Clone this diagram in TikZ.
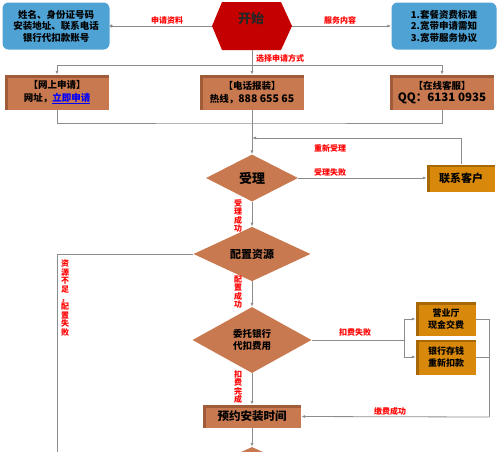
\documentclass[tikz,border=0pt]{standalone}
\usepackage{fontspec}
\setmainfont{Noto Sans CJK SC}
\usetikzlibrary{arrows.meta,shapes.geometric,positioning}

\definecolor{skyblue}{HTML}{4EA2D4}
\definecolor{rust}{HTML}{C8794F}
\definecolor{rustdark}{HTML}{A05C38}
\definecolor{amber}{HTML}{D8890C}
\definecolor{amberdark}{HTML}{A86806}
\definecolor{crimson}{HTML}{C40000}
\definecolor{wire}{HTML}{8C8C8C}

\begin{document}
\begin{tikzpicture}[x=1pt, y=-1pt, >={Latex[length=4pt,width=3pt]},
  bevel/.style={path picture={
      \fill[#1] (path picture bounding box.north west) rectangle ([yshift=-2.5pt]path picture bounding box.north east);
      \fill[#1] (path picture bounding box.north west) rectangle ([xshift=2.5pt]path picture bounding box.south west);}},
  infobox/.style={rectangle, rounded corners=6pt, fill=skyblue, align=center, inner sep=0pt,
      font=\fontsize{9.5}{11.5}\selectfont\bfseries},
  waybox/.style={rectangle, fill=rust, bevel=rustdark, align=center, inner sep=0pt,
      minimum width=104pt, minimum height=35pt, font=\fontsize{9.5}{12.5}\selectfont\bfseries},
  goldbox/.style={rectangle, fill=amber, bevel=amberdark, align=center, inner sep=0pt,
      font=\fontsize{9}{12}\selectfont\bfseries},
  decision/.style={diamond, fill=rust, align=center, inner sep=0pt, font=\bfseries},
  link/.style={draw=wire, line width=0.8pt},
  lab/.style={text=red, inner sep=1pt, font=\fontsize{8}{8.6}\selectfont\bfseries},
  vlab/.style={lab, align=center}]

  \clip (0,0) rectangle (500,451);

  % top row
  \fill[crimson] (222,2) -- (281,2) -- (292,26) -- (281,50) -- (222,50) -- (212,26) -- cycle;
  \coordinate (startW) at (212,26);
  \coordinate (startE) at (292,26);
  \coordinate (startS) at (252,50);
  \node[text=black!85, font=\fontsize{13}{13}\selectfont\bfseries] (start) at (251,19) {开始};

  \node[infobox, minimum width=107pt, minimum height=47pt] (info) at (56,26)
    {姓名、身份证号码\\安装地址、联系电话\\银行代扣款账号};
  \node[infobox, minimum width=105pt, minimum height=47pt] (svc) at (444,26)
    {1.套餐资费标准\\2.宽带申请需知\\3.宽带服务协议};

  \draw[link,-{Circle[length=3pt]}] (startW) -- (info.east);
  \draw[link,->] (startE) -- (svc.west);
  \node[lab] (lbapply) at (167,20) {申请资料};
  \node[lab] (lbservice) at (340,20) {服务内容};

  % ways to apply
  \node[waybox] (web) at (57,92.5) {【网上申请】\\网址，\textcolor{blue}{\underline{立即申请}}};
  \node[waybox] (phone) at (252,92.5) {【电话报装】\\热线，{\fontsize{10.5}{12.5}\selectfont 888 655 65}};
  \node[waybox] (qq) at (442,92.5) {【在线客服】\\{\fontsize{11.5}{14}\selectfont QQ：6131 0935}};

  \coordinate (fork1) at (252,65);
  \coordinate (join1) at (252,123);
  \draw[link] (startS) -- (fork1);
  \draw[link,->] (fork1) -| (web.north);
  \draw[link,->] (fork1) -| (qq.north);
  \draw[link,->] (fork1) -- (phone.north);
  \node[lab] (lbchoose) at (280,58) {选择申请方式};
  \draw[link] (web.south) |- (join1) -| (qq.south);

  % acceptance
  \node[decision, minimum width=92pt, minimum height=47pt, font=\fontsize{13}{13}\selectfont\bfseries] (accept) at (252,178) {受理};
  \node[goldbox, minimum width=68pt, minimum height=27pt, font=\fontsize{11}{11}\selectfont\bfseries] (contact) at (461,178) {联系客户};
  \coordinate (retry) at (252,138);

  \draw[link,->] (phone.south) -- (accept.north);
  \draw[link,->] (accept.east) -- (contact.west);
  \draw[link,->] (contact.north) |- (retry);
  \node[lab] (lbretry) at (330,148) {重新受理};
  \node[lab] (lbfail) at (330,172) {受理失败};

  % resources
  \node[decision, minimum width=117pt, minimum height=47pt, font=\fontsize{11}{11}\selectfont\bfseries] (alloc) at (252,254) {配置资源};
  \coordinate (lostL) at (57,460);
  \draw[link,->] (accept.south) -- (alloc.north);
  \node[vlab] (lbok) at (238,216) {受\\理\\成\\功};
  \draw[link] (alloc.west) -| (lostL);
  \node[vlab] (lbshort) at (65,298) {资\\源\\不\\足\\，\\配\\置\\失\\败};

  % bank payment
  \node[decision, minimum width=119pt, minimum height=66pt, font=\fontsize{9.5}{11.5}\selectfont\bfseries] (bank) at (252,340) {委托银行\\代扣费用};
  \draw[link,->] (alloc.south) -- (bank.north);
  \node[vlab] (lballoc) at (238,292) {配\\置\\成\\功};

  \node[goldbox, minimum width=60pt, minimum height=34pt] (cash) at (446,319) {营业厅\\现金交费};
  \node[goldbox, minimum width=60pt, minimum height=35pt] (redo) at (446,357) {银行存钱\\重新扣款};
  \coordinate (fork2) at (404,340);
  \coordinate (merge) at (489,417);
  \draw[link] (bank.east) -- (fork2);
  \draw[link,->] (fork2) |- (cash.west);
  \draw[link,->] (fork2) |- (redo.west);
  \node[lab] (lbdebit) at (355,332) {扣费失败};

  % booking
  \node[rectangle, fill=rust, bevel=rustdark, minimum width=98pt, minimum height=23pt, inner sep=0pt,
    font=\fontsize{11.5}{11.5}\selectfont\bfseries] (book) at (252,416.5) {预约安装时间};
  \draw[link,->] (bank.south) -- (book.north);
  \node[vlab] (lbpaid) at (238,387) {扣\\费\\完\\成};
  \draw[link] (cash.east) -| (merge);
  \draw[link] (redo.east) -- (redo.east -| merge);
  \draw[link,->] (merge) -- (book.east);
  \node[lab] (lbsettled) at (390,411) {缴费成功};

  \node[decision, minimum width=110pt, minimum height=50pt] (next) at (252,472) {};
  \draw[link,->] (book.south) -- (next.north);
\end{tikzpicture}
\end{document}
